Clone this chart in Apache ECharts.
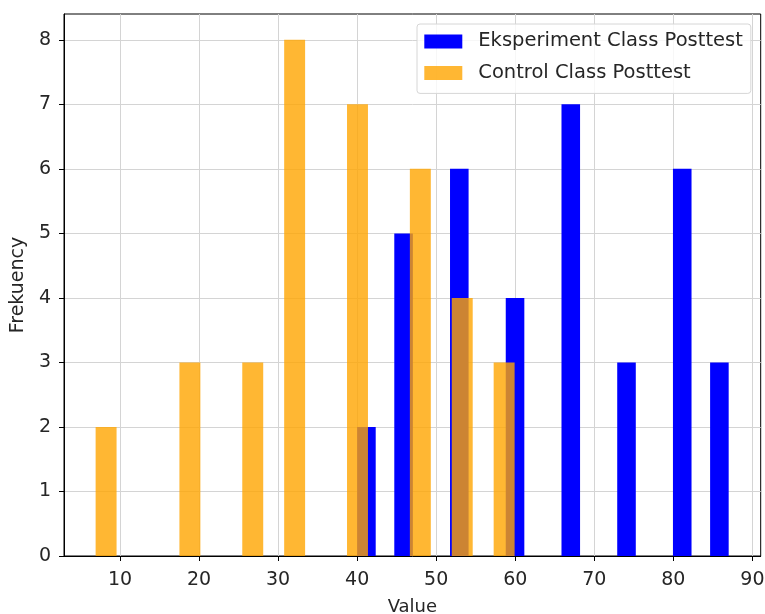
<!DOCTYPE html>
<html>
<head>
<meta charset="utf-8">
<script src="https://cdn.jsdelivr.net/npm/echarts@6/dist/echarts.min.js"></script>
<style>html,body{margin:0;padding:0;background:#fff;overflow:hidden;}#c{width:765px;height:614px;}</style>
</head>
<body>
<div id="c"></div>
<script>
// Histogram bins (left edges), bin widths and counts
const expLeftEdges = [40.0, 44.7, 51.75, 58.8, 65.85, 72.9, 79.95, 84.65];
const expBinWidth = 2.35;
const expCounts = [2, 5, 6, 4, 7, 3, 6, 3];

const ctrlLeftEdges = [6.92, 17.52, 25.47, 30.77, 38.72, 46.67, 51.97, 57.27];
const ctrlBinWidth = 2.65;
const ctrlCounts = [2, 3, 3, 8, 7, 6, 4, 3];

const xTicks = [10, 20, 30, 40, 50, 60, 70, 80, 90];
const yTicks = [0, 1, 2, 3, 4, 5, 6, 7, 8];

const seriesNames = ['Eksperiment Class Posttest', 'Control Class Posttest'];

function makeData(edges, w, counts) {
  return edges.map((e, i) => [e, e + w, counts[i]]);
}

function renderBar(params, api) {
  const p0 = api.coord([api.value(0), 0]);
  const p1 = api.coord([api.value(1), api.value(2)]);
  return {
    type: 'rect',
    shape: { x: p0[0], y: p1[1], width: p1[0] - p0[0], height: p0[1] - p1[1] },
    style: { fill: api.visual('color') }
  };
}

const FONT = 'DejaVu Sans';
const TXT = '#262626';
const FS = 19;
const chart = echarts.init(document.getElementById('c'), null, { renderer: 'canvas' });
chart.setOption({
  animation: false,
  backgroundColor: '#fff',
  textStyle: { fontFamily: FONT },
  grid: { left: 64, right: 4.3, top: 14, bottom: 58, show: true, borderColor: '#000', borderWidth: 1, backgroundColor: 'transparent', containLabel: false, outerBoundsMode: 'none' },
  legend: {
    orient: 'vertical',
    left: 417, top: 24,
    icon: 'rect',
    itemWidth: 38, itemHeight: 14,
    itemGap: 11.5,
    padding: [7.4, 8, 10.5, 7.3],
    backgroundColor: 'rgba(255,255,255,0.8)',
    borderColor: '#d6d6d6', borderWidth: 1, borderRadius: 3,
    textStyle: { fontFamily: FONT, fontSize: 19.5, lineHeight: 19, color: TXT, padding: [0, 0, 0, 11] },
    data: seriesNames
  },
  xAxis: {
    type: 'value',
    min: 2.92, max: 91.05,
    interval: 10,
    name: 'Value', nameLocation: 'middle', nameGap: 42,
    nameTextStyle: { fontFamily: FONT, fontSize: 18, color: TXT },
    axisLine: { show: true, lineStyle: { color: '#000', width: 1 } },
    axisTick: { show: true, length: 5, lineStyle: { color: '#000' }, customValues: xTicks },
    axisLabel: { fontFamily: FONT, fontSize: FS, color: TXT, margin: 15, customValues: xTicks },
    splitLine: { show: true, lineStyle: { color: '#d4d4d4', width: 1 } }
  },
  yAxis: {
    type: 'value',
    min: 0, max: 8.4,
    interval: 1,
    name: 'Frekuency', nameLocation: 'middle', nameGap: 30,
    nameTextStyle: { fontFamily: FONT, fontSize: FS, color: TXT },
    axisLine: { show: true, lineStyle: { color: '#000', width: 1 } },
    axisTick: { show: true, length: 5, lineStyle: { color: '#000' }, customValues: yTicks },
    axisLabel: { fontFamily: FONT, fontSize: FS, color: TXT, margin: 13, customValues: yTicks },
    splitLine: { show: true, lineStyle: { color: '#d4d4d4', width: 1 } }
  },
  series: [
    {
      name: seriesNames[0], type: 'custom', renderItem: renderBar,
      itemStyle: { color: '#0000ff' },
      encode: { x: [0, 1], y: 2 },
      data: makeData(expLeftEdges, expBinWidth, expCounts)
    },
    {
      name: seriesNames[1], type: 'custom', renderItem: renderBar,
      itemStyle: { color: 'rgba(255,165,0,0.8)' },
      encode: { x: [0, 1], y: 2 },
      data: makeData(ctrlLeftEdges, ctrlBinWidth, ctrlCounts)
    }
  ]
});
</script>
</body>
</html>
